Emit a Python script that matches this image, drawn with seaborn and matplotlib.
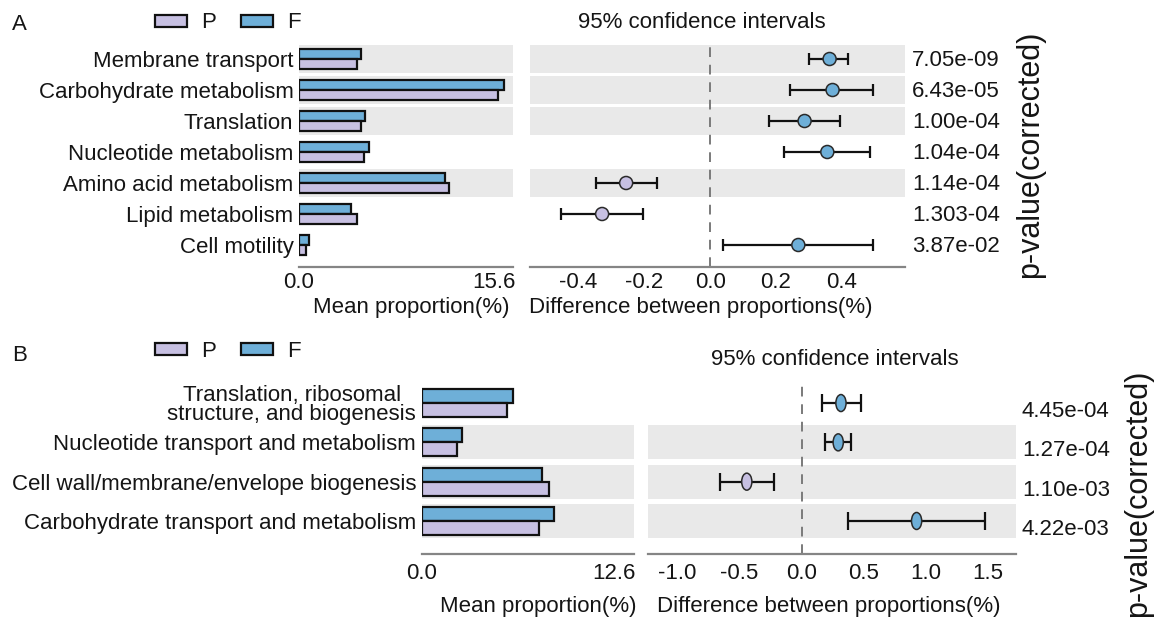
import numpy as np
import pandas as pd
import matplotlib
matplotlib.use("Agg")
import matplotlib.pyplot as plt
import seaborn as sns
from matplotlib.patches import Patch
from matplotlib.path import Path
from matplotlib.transforms import blended_transform_factory, ScaledTranslation

# ---------------- data : panel A ----------------
a_categories = ["Membrane transport", "Carbohydrate metabolism", "Translation",
                "Nucleotide metabolism", "Amino acid metabolism", "Lipid metabolism",
                "Cell motility"]
a_mean_P = [4.40, 15.22, 4.73, 4.99, 11.45, 4.40, 0.53]
a_mean_F = [4.73, 15.65, 5.04, 5.34, 11.17, 3.97, 0.79]
a_diff = [0.363, 0.372, 0.287, 0.356, -0.255, -0.328, 0.268]
a_ci_low = [0.301, 0.243, 0.180, 0.223, -0.347, -0.454, 0.038]
a_ci_high = [0.418, 0.496, 0.395, 0.486, -0.162, -0.205, 0.494]
a_pvalues = ["7.05e-09", "6.43e-05", "1.00e-04", "1.04e-04", "1.14e-04",
             "1.303-04", "3.87e-02"]
a_shaded = [True, True, True, False, True, False, False]
a_mean_ticks = [0.0, 15.6]
a_diff_ticks = [-0.4, -0.2, 0.0, 0.2, 0.4]

# ---------------- data : panel B ----------------
b_categories = ["Translation, ribosomal\nstructure, and biogenesis",
                "Nucleotide transport and metabolism",
                "Cell wall/membrane/envelope biogenesis",
                "Carbohydrate transport and metabolism"]
b_mean_P = [5.33, 2.22, 7.93, 7.31]
b_mean_F = [5.67, 2.51, 7.49, 8.24]
b_diff = [0.317, 0.295, -0.440, 0.925]
b_ci_low = [0.166, 0.188, -0.657, 0.375]
b_ci_high = [0.476, 0.397, -0.223, 1.475]
b_pvalues = ["4.45e-04", "1.27e-04", "1.10e-03", "4.22e-03"]
b_shaded = [False, True, True, True]
b_mean_ticks = [0.0, 12.6]
b_diff_ticks = [-1.0, -0.5, 0.0, 0.5, 1.0, 1.5]

groups = ["P", "F"]
mean_label = "Mean proportion(%)"
diff_label = "Difference between proportions(%)"
ci_title = "95% confidence intervals"
p_label = "p-value(corrected)"

# ---------------- style ----------------
sns.set_theme(style="white")
plt.rcParams["font.family"] = ["Liberation Sans", "DejaVu Sans"]
TXT = "#151515"
COL = {"P": "#C7C0E2", "F": "#6EAFD8"}
BAND = "#E9E9E9"
AXC = "#858585"
EDGE = "#111111"
FS = 16

W, H = 1158, 618
fig = plt.figure(figsize=(W / 100, H / 100), dpi=100)


def rect(l, r, t, b):
    return [l / W, 1 - b / H, (r - l) / W, (b - t) / H]


def fx(px):
    return px / W


def fy(py):
    return 1 - py / H


circ = Path.unit_circle()
ellipse = Path(circ.vertices * np.array([0.6, 1.0]), circ.codes)


def panel(cats, mP, mF, diff, lo, hi, pv, shaded, mticks, dticks,
          bar_rect, diff_rect, ylim, mxmax, dxlim, bar_w, band_h,
          marker, msize, capsize, tick_pad, pv_dx, pv_dy, last_shift):
    n = len(cats)
    axb = fig.add_axes(bar_rect)
    axd = fig.add_axes(diff_rect)

    df = pd.DataFrame({"category": list(cats) * 2,
                       "group": ["F"] * n + ["P"] * n,
                       "value": list(mF) + list(mP)})
    sns.barplot(data=df, x="value", y="category", hue="group",
                hue_order=["F", "P"], order=cats, palette=COL, saturation=1,
                width=bar_w, edgecolor=EDGE, linewidth=1.6, orient="h",
                errorbar=None, ax=axb, legend=False, zorder=2)

    pos = np.arange(n)
    d = np.asarray(diff)
    l = np.asarray(lo)
    h = np.asarray(hi)
    axd.errorbar(d, pos, xerr=[d - l, h - d], fmt="none", ecolor=EDGE,
                 elinewidth=1.6, capsize=capsize, capthick=1.6, zorder=3)
    enriched = np.where(d > 0, "F", "P")
    sns.scatterplot(x=d, y=pos, hue=enriched, palette=COL, marker=marker,
                    s=msize, edgecolor="#2a2a2a", linewidth=1.1, ax=axd,
                    legend=False, zorder=4)
    axd.axvline(0, color="#7a7a7a", lw=1.4, ls=(0, (5, 4)), zorder=1)

    for i, s in enumerate(shaded):
        if s:
            for ax in (axb, axd):
                ax.axhspan(i - band_h, i + band_h, color=BAND, lw=0, zorder=0)

    for ax in (axb, axd):
        for sp in ["top", "right", "left"]:
            ax.spines[sp].set_visible(False)
        ax.spines["bottom"].set_color(AXC)
        ax.spines["bottom"].set_linewidth(1.6)
        ax.tick_params(axis="x", direction="in", length=4, width=1, color=AXC,
                       labelsize=FS, pad=tick_pad, labelcolor=TXT)
        ax.set_xlabel("")
        ax.set_ylabel("")
        ax.set_ylim(ylim)
        ax.grid(False)

    axb.tick_params(axis="y", length=0, labelsize=FS, pad=4, labelcolor=TXT)
    axd.set_yticks([])
    axb.set_xlim(0, mxmax)
    axb.set_xticks(mticks)
    axb.set_xticklabels([f"{t:.1f}" for t in mticks])
    axd.set_xlim(*dxlim)
    axd.set_xticks(dticks)
    axd.set_xticklabels([f"{t:.1f}" for t in dticks])

    lab = axb.get_xticklabels()[-1]
    lab.set_transform(lab.get_transform() +
                      ScaledTranslation(-last_shift / 100, 0, fig.dpi_scale_trans))
    for t in axb.get_yticklabels():
        t.set_multialignment("center")
        t.set_linespacing(0.9)

    tr = blended_transform_factory(axd.transAxes, axd.transData)
    for i, p in enumerate(pv):
        axd.annotate(p, xy=(1, i), xycoords=tr, xytext=(pv_dx, -pv_dy),
                     textcoords="offset points", ha="left", va="center",
                     fontsize=FS, color=TXT, annotation_clip=False)
    return axb, axd


def legend(y_px):
    handles = [Patch(facecolor=COL[g], edgecolor=EDGE, linewidth=1.6, label=g)
               for g in groups]
    fig.legend(handles=handles, loc="center left",
               bbox_to_anchor=(fx(155), fy(y_px)), ncol=2, frameon=False,
               fontsize=FS, handlelength=1.44, handleheight=0.45,
               handletextpad=0.65, columnspacing=1.1, borderpad=0,
               borderaxespad=0, labelcolor=TXT)


# ---------------- panel A ----------------
panel(a_categories, a_mean_P, a_mean_F, a_diff, a_ci_low, a_ci_high, a_pvalues,
      a_shaded, a_mean_ticks, a_diff_ticks,
      bar_rect=rect(299, 513, 43.5, 267), diff_rect=rect(530, 905, 43.5, 267),
      ylim=(6.71, -0.5), mxmax=16.36, dxlim=(-0.547, 0.592), bar_w=0.65,
      band_h=0.45, marker="o", msize=88, capsize=4.3, tick_pad=3.6,
      pv_dx=5, pv_dy=1, last_shift=9)
legend(23)
fig.text(fx(12), fy(30), "A", fontsize=FS, color=TXT, ha="left", va="baseline")
fig.text(fx(702), fy(28), ci_title, fontsize=FS, color=TXT, ha="center", va="baseline")
fig.text(fx(411), fy(313), mean_label, fontsize=FS, color=TXT, ha="center", va="baseline")
fig.text(fx(529), fy(313), diff_label, fontsize=FS, color=TXT, ha="left", va="baseline")
fig.text(fx(1030), fy(154), p_label, fontsize=22, color=TXT, rotation=90,
         ha="center", va="center")

# ---------------- panel B ----------------
panel(b_categories, b_mean_P, b_mean_F, b_diff, b_ci_low, b_ci_high, b_pvalues,
      b_shaded, b_mean_ticks, b_diff_ticks,
      bar_rect=rect(421.7, 634.3, 383, 554), diff_rect=rect(648, 1016, 383, 554),
      ylim=(3.84, -0.51), mxmax=13.24, dxlim=(-1.234, 1.724), bar_w=0.71,
      band_h=0.43, marker=ellipse, msize=150, capsize=6.5, tick_pad=6.5,
      pv_dx=4.3, pv_dy=6, last_shift=10)
legend(351.5)
fig.text(fx(12), fy(361), "B", fontsize=FS, color=TXT, ha="left", va="baseline")
fig.text(fx(835), fy(365), ci_title, fontsize=FS, color=TXT, ha="center", va="baseline")
fig.text(fx(538.5), fy(612), mean_label, fontsize=FS, color=TXT, ha="center", va="baseline")
fig.text(fx(657), fy(612), diff_label, fontsize=FS, color=TXT, ha="left", va="baseline")
fig.text(fx(1138), fy(493), p_label, fontsize=22, color=TXT, rotation=90,
         ha="center", va="center")

fig.savefig("out.png", dpi=100)
